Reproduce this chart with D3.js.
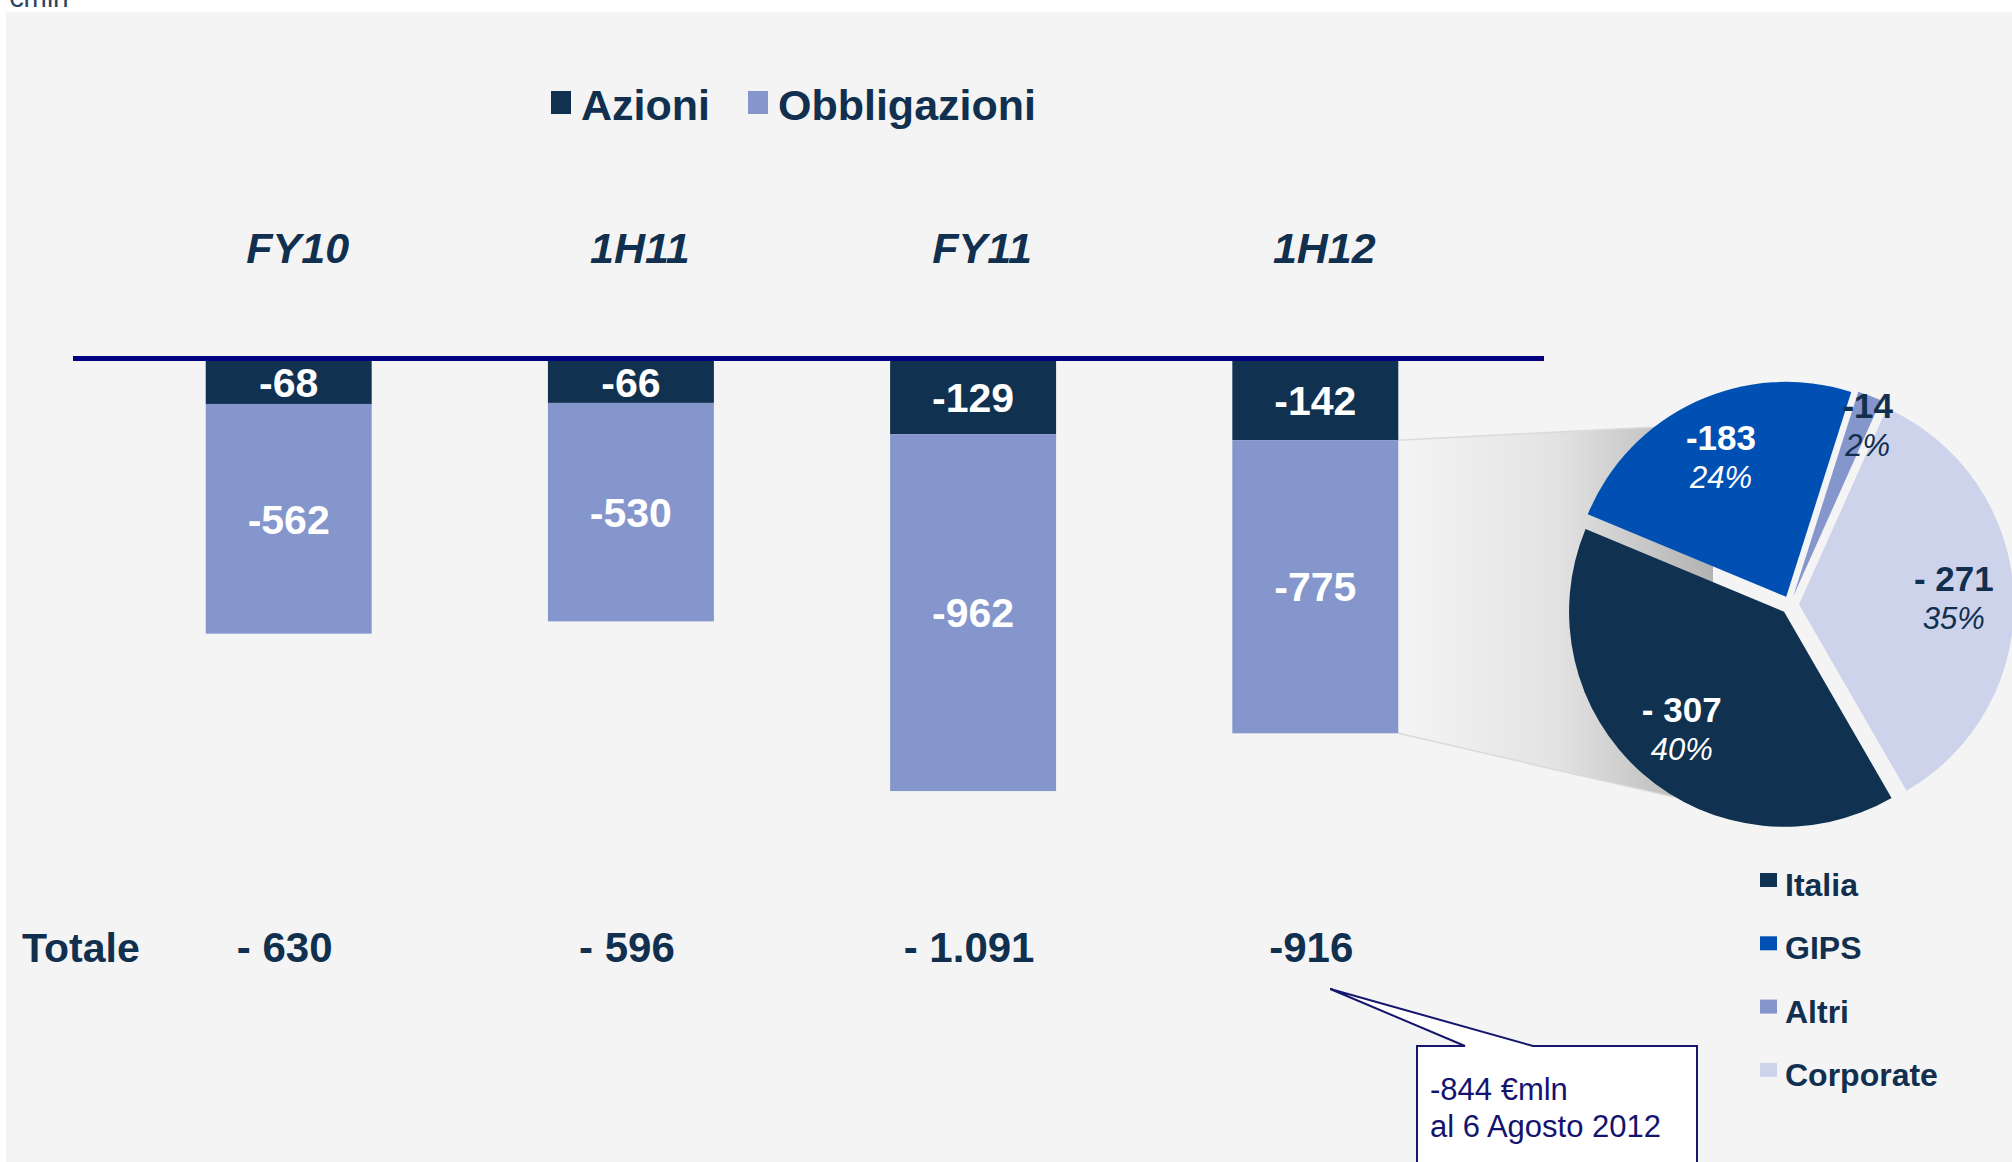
<!DOCTYPE html>
<html>
<head>
<meta charset="utf-8">
<script src="https://cdn.jsdelivr.net/npm/d3@7.9.0/dist/d3.min.js"></script>
<style>
  body { margin: 0; background: #fff; }
  svg text { font-family: "Liberation Sans", Arial, sans-serif; }
</style>
</head>
<body>
<svg id="chart"></svg>
<script>
// data
const periods = ["FY10", "1H11", "FY11", "1H12"];
const azioni = [-68, -66, -129, -142];
const obbligazioni = [-562, -530, -962, -775];
const totaleLabels = ["- 630", "- 596", "- 1.091", "-916"];

const segmenti = ["Italia", "GIPS", "Altri", "Corporate"];
const obbl1H12 = [-307, -183, -14, -271];
const segLabels = ["- 307", "-183", "-14", "- 271"];

const W = 2012, H = 1162;
const textCol = "#112f4e";
const colAzioni = "#10314f", colObbl = "#8496cc";
const segColors = ["#10314f", "#0050b4", "#8496cc", "#cdd3eb"];

const svg = d3.select("#chart").attr("width", W).attr("height", H);

// grey slide panel
svg.append("rect").attr("x", 6).attr("y", 12).attr("width", W).attr("height", H).attr("fill", "#f4f4f4");
svg.append("text").attr("x", 8).attr("y", 7).attr("font-size", 28).attr("fill", "#2a4466").text("€mln");

const x = d3.scaleBand().domain(periods).range([117.6, 1486.4]).paddingInner(0.515).paddingOuter(0.2575);
const y = d3.scalePow().exponent(0.83).domain([0, -1100]).range([361, 794]);

const rows = periods.map((p, i) => ({ period: p, Azioni: azioni[i], Obbligazioni: obbligazioni[i] }));
const keys = ["Azioni", "Obbligazioni"];
const stacked = d3.stack().keys(keys).offset(d3.stackOffsetDiverging)(rows);
const color = d3.scaleOrdinal().domain(keys).range([colAzioni, colObbl]);

// pie geometry
const C = { x: 1790, y: 605 }, R = 215, EXPLODE = 9;
const deg = Math.PI / 180;

// shadow joining the 1H12 bond bar to the pie
const defs = svg.append("defs");
const grad = defs.append("linearGradient").attr("id", "shade").attr("gradientUnits", "userSpaceOnUse")
  .attr("x1", 1400).attr("x2", C.x - 77).attr("y1", 0).attr("y2", 0);
grad.append("stop").attr("offset", 0).attr("stop-color", "#f4f4f4");
grad.append("stop").attr("offset", 0.5).attr("stop-color", "#e3e3e3");
grad.append("stop").attr("offset", 1).attr("stop-color", "#b2b2b2");

const lastObbl = stacked[1][periods.length - 1];
const bx = x("1H12") + x.bandwidth();
const pTop = [C.x + (R + 8) * Math.sin(323 * deg), C.y - (R + 8) * Math.cos(323 * deg)];
const pBot = [C.x + (R + 8) * Math.sin(210 * deg), C.y - (R + 8) * Math.cos(210 * deg)];
const shadow = [[bx, y(lastObbl[1])], pTop, [C.x - 77, C.y - 150], [C.x - 77, C.y + 150], pBot, [bx, y(lastObbl[0])]];
svg.append("path").attr("d", d3.line()(shadow) + "Z").attr("fill", "url(#shade)");
svg.append("path").attr("d", d3.line()([shadow[0], shadow[1]])).attr("stroke", "#dadada").attr("stroke-width", 1.5).attr("fill", "none");
svg.append("path").attr("d", d3.line()([shadow[5], shadow[4]])).attr("stroke", "#dadada").attr("stroke-width", 1.5).attr("fill", "none");

// bars
const layer = svg.selectAll(".layer").data(stacked).join("g").attr("class", "layer").attr("fill", d => color(d.key));
layer.selectAll("rect").data(d => d).join("rect")
  .attr("x", d => x(d.data.period))
  .attr("y", d => y(d[1]))
  .attr("width", x.bandwidth())
  .attr("height", d => y(d[0]) - y(d[1]));

layer.selectAll("text").data(d => d.map(v => Object.assign(v, { key: d.key }))).join("text")
  .attr("x", d => x(d.data.period) + x.bandwidth() / 2)
  .attr("y", d => (y(d[0]) + y(d[1])) / 2)
  .attr("dy", "0.36em")
  .attr("text-anchor", "middle")
  .attr("font-size", 41).attr("font-weight", "bold").attr("fill", "#fff")
  .text(d => d.data[d.key]);

// zero line
svg.append("line").attr("x1", 73).attr("x2", 1544).attr("y1", 358.5).attr("y2", 358.5)
  .attr("stroke", "#000080").attr("stroke-width", 5);

// period labels
svg.selectAll(".period").data(periods).join("text").attr("class", "period")
  .attr("x", d => x(d) + x.bandwidth() / 2 + 9).attr("y", 263)
  .attr("text-anchor", "middle").attr("font-size", 43).attr("font-weight", "bold").attr("font-style", "italic")
  .attr("fill", textCol).text(d => d);

// legend top
const legItems = [{ k: "Azioni", x: 551 }, { k: "Obbligazioni", x: 748 }];
legItems.forEach(l => {
  svg.append("rect").attr("x", l.x).attr("y", 91).attr("width", 20).attr("height", 23).attr("fill", color(l.k));
  svg.append("text").attr("x", l.x + 30).attr("y", 120).attr("font-size", 43).attr("font-weight", "bold")
    .attr("fill", textCol).text(l.k);
});

// totals row
svg.append("text").attr("x", 22).attr("y", 962).attr("font-size", 41).attr("font-weight", "bold").attr("fill", textCol).text("Totale");
svg.selectAll(".tot").data(totaleLabels).join("text").attr("class", "tot")
  .attr("x", (d, i) => x(periods[i]) + x.bandwidth() / 2 - 4).attr("y", 962)
  .attr("text-anchor", "middle").attr("font-size", 42).attr("font-weight", "bold").attr("fill", textCol).text(d => d);

// pie
const total1H12 = d3.sum(obbl1H12, v => -v);
const pct = d3.format(".0%");
const pie = d3.pie().sort(null).value(d => -d.v).startAngle(150 * deg).endAngle(510 * deg);
const slices = pie(segmenti.map((s, i) => ({ s, v: obbl1H12[i], label: segLabels[i], col: segColors[i] })));
const arc = d3.arc().innerRadius(0).outerRadius(R);
const midA = d => (d.startAngle + d.endAngle) / 2;
const explode = d => `translate(${Math.sin(midA(d)) * EXPLODE},${-Math.cos(midA(d)) * EXPLODE})`;

const pg = svg.append("g").attr("transform", `translate(${C.x},${C.y})`);
pg.append("g").selectAll("path").data(slices).join("path")
  .attr("transform", explode).attr("d", arc).attr("fill", d => d.data.col);

// small slices get their label pushed out towards the rim
const isSmall = d => -d.data.v / total1H12 < 0.05;
const labelPos = d => {
  const m = midA(d) + (isSmall(d) ? 2.5 * deg : 0);
  const r = isSmall(d) ? 188 : 155;
  return [Math.sin(m) * r, -Math.cos(m) * r];
};
const labCol = d => d3.hsl(d.data.col).l < 0.5 ? "#fff" : textCol;
const lg = pg.append("g").selectAll("g").data(slices).join("g").attr("transform", explode);
lg.append("text").attr("text-anchor", "middle")
  .attr("x", d => labelPos(d)[0]).attr("y", d => labelPos(d)[1] - 6)
  .attr("font-size", 35).attr("font-weight", "bold").attr("fill", labCol).text(d => d.data.label);
lg.append("text").attr("text-anchor", "middle")
  .attr("x", d => labelPos(d)[0]).attr("y", d => labelPos(d)[1] + 32)
  .attr("font-size", 31).attr("font-style", "italic").attr("fill", labCol).text(d => pct(-d.data.v / total1H12));

// pie legend
svg.selectAll(".pleg").data(segmenti).join("g").attr("class", "pleg")
  .attr("transform", (d, i) => `translate(1760,${896 + i * 63.3})`)
  .each(function (d, i) {
    const g = d3.select(this);
    g.append("rect").attr("x", 0).attr("y", -23).attr("width", 17).attr("height", 14).attr("fill", segColors[i]);
    g.append("text").attr("x", 25).attr("y", 0).attr("font-size", 32).attr("font-weight", "bold").attr("fill", textCol).text(d);
  });

// callout
const tipX = x("1H12") + x.bandwidth() / 2 + 15;
const callout = [[1417, 1046], [1465, 1046], [tipX, 989], [1533, 1046], [1697, 1046], [1697, 1175], [1417, 1175]];
svg.append("path").attr("d", d3.line()(callout) + "Z").attr("fill", "#fff").attr("stroke", "#16166e").attr("stroke-width", 2);
svg.append("text").attr("x", 1430).attr("y", 1100).attr("font-size", 31).attr("fill", "#14146e").text("-844 €mln");
svg.append("text").attr("x", 1430).attr("y", 1137).attr("font-size", 31).attr("fill", "#14146e").text("al 6 Agosto 2012");
</script>
</body>
</html>
